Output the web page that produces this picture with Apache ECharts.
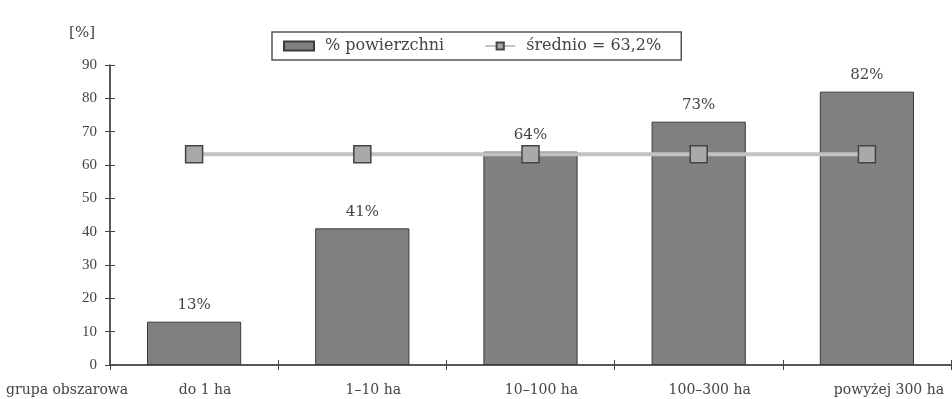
<!DOCTYPE html>
<html><head><meta charset="utf-8">
<script src="https://cdn.jsdelivr.net/npm/echarts@6/dist/echarts.min.js"></script>
<style>html,body{margin:0;padding:0;background:#fff}#c{width:952px;height:399px}</style>
</head><body><div id="c"></div>
<script>
const categories = ['do 1 ha', '1–10 ha', '10–100 ha', '100–300 ha', 'powyżej 300 ha'];
const shareValues = [13, 41, 64, 73, 82];
const averageValues = [63.2, 63.2, 63.2, 63.2, 63.2];
const seriesNames = ['% powierzchni', 'średnio = 63,2%'];
const yTicks = { min: 0, max: 90, interval: 10 };

const font = '"DejaVu Serif", "Liberation Serif", serif';
const numFont = '"Liberation Serif", "DejaVu Serif", serif';
const txt = '#444';
const chart = echarts.init(document.getElementById('c'));
chart.setOption({
  backgroundColor: '#fff',
  animation: false,
  textStyle: { fontFamily: font },
  grid: { left: 110, right: 1, top: 65, bottom: 34, containLabel: false },
  legend: {
    left: 272, top: 32,
    padding: [6, 20, 6, 11],
    borderColor: '#555', borderWidth: 1.5, backgroundColor: '#fff',
    itemGap: 40, itemWidth: 30, itemHeight: 9,
    textStyle: { fontFamily: font, fontSize: 16, color: txt, padding: [0, 0, 0, 6] },
    data: [
      { name: seriesNames[0], icon: 'rect' },
      { name: seriesNames[1] }
    ]
  },
  xAxis: [{
    type: 'category', data: categories,
    axisLine: { lineStyle: { color: '#222', width: 1.5 } },
    axisTick: { show: true, interval: 0, length: 5, lineStyle: { color: '#444' } },
    axisLabel: {
      interval: 0, hideOverlap: false,
      fontFamily: font, fontSize: 14, color: txt, margin: 18,
      formatter: function (v, i) {
        if (i === 4) return '{e|' + v + '}';
        return '{n|' + v + '}';
      },
      rich: {
        n: { fontFamily: font, fontSize: 14, color: txt, padding: [0, 0, 0, 22] },
        e: { fontFamily: font, fontSize: 14, color: txt, padding: [0, 0, 0, 44] }
      }
    }
  }, {
    type: 'category', data: categories, position: 'bottom',
    axisLine: { show: false },
    axisTick: { show: true, interval: 0, inside: true, length: 5, lineStyle: { color: '#444' } },
    axisLabel: { show: false }
  }],
  yAxis: [{
    type: 'value', min: yTicks.min, max: yTicks.max, interval: yTicks.interval,
    name: '[%]', nameLocation: 'end', nameGap: 24,
    nameTextStyle: { fontFamily: font, fontSize: 15, color: txt, align: 'right', padding: [0, 15, 0, 0] },
    axisLine: { show: true, lineStyle: { color: '#222', width: 1.5 } },
    axisTick: { show: true, length: 5, lineStyle: { color: '#444' } },
    axisLabel: { fontFamily: numFont, fontSize: 15, color: txt, margin: 13 },
    splitLine: { show: false }
  }, {
    type: 'value', min: yTicks.min, max: yTicks.max, interval: yTicks.interval, position: 'left',
    axisLine: { show: false },
    axisTick: { show: true, inside: true, length: 5, lineStyle: { color: '#444' } },
    axisLabel: { show: false },
    splitLine: { show: false }
  }],
  series: [
    {
      name: seriesNames[0], type: 'bar', data: shareValues, barWidth: '56%',
      itemStyle: { color: '#808083', borderColor: '#3a3a3a', borderWidth: 1 },
      label: { show: true, position: 'top', distance: 9, formatter: '{c}%',
        fontFamily: font, fontSize: 15, color: txt },
      z: 2
    },
    {
      name: seriesNames[1], type: 'line', data: averageValues,
      symbol: 'rect', symbolSize: 17,
      lineStyle: { color: '#c2c2c2', width: 4 },
      itemStyle: { color: '#a9a9a9', borderColor: '#444', borderWidth: 1.5 },
      z: 5
    }
  ],
  graphic: [
    { type: 'text', left: 6, top: 383,
      style: { text: 'grupa obszarowa', fontFamily: font, fontSize: 14, fill: txt } }
  ]
});
</script></body></html>
